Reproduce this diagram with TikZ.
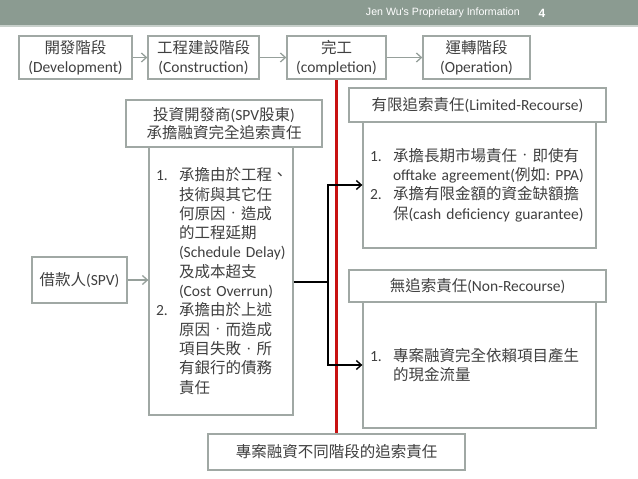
\documentclass[tikz,border=0pt]{standalone}
\usepackage{fontspec}
\setmainfont{Carlito}
\newfontfamily\cjkfont{Noto Sans CJK TC}
\newfontfamily\hdrfont{Liberation Sans}
\usetikzlibrary{arrows.meta}
\newcommand\zh[1]{{\cjkfont #1}}
\newcommand\zdot{\makebox[15.5pt]{\cjkfont\fontsize{9}{9}\selectfont\raisebox{2.4pt}{·}}}
\definecolor{barcol}{RGB}{139,155,145}
\definecolor{barlite}{RGB}{200,208,203}
\definecolor{boxline}{RGB}{160,168,164}
\definecolor{txtcol}{RGB}{64,64,64}
\definecolor{arrowgray}{RGB}{150,160,155}
\definecolor{redcol}{RGB}{200,18,18}
\begin{document}
\begin{tikzpicture}[x=1pt,y=-1pt,
  box/.style={draw=boxline, line width=1.3pt, fill=white, text=txtcol, inner sep=0pt, align=center, font=\fontsize{15.5}{19.5}\selectfont},
  listbox/.style={box, align=left, inner xsep=7pt, inner ysep=0pt, font=\fontsize{15.5}{19.3}\selectfont},
  garrow/.style={draw=arrowgray, line width=1.3pt, -{Straight Barb[length=5pt,width=9pt]}},
  kline/.style={draw=black, line width=1.4pt},
  karrow/.style={kline, -{Straight Barb[length=5pt,width=9pt]}},
  redl/.style={draw=redcol, line width=2.2pt},
  hdr/.style={text=white, inner sep=0pt, font=\hdrfont\fontsize{10.6}{12}\selectfont}
]
\useasboundingbox (0,0) rectangle (638,479);
\fill[white] (0,0) rectangle (638,479);
% header bar
\fill[barcol] (0,0) rectangle (638,25);
\fill[barlite] (0,25) rectangle (638,27);
\node[hdr, anchor=east] (hdrtxt) at (520,13) {Jen Wu's Proprietary Information};
\node[hdr, font=\hdrfont\bfseries\fontsize{12}{14}\selectfont] (pagenum) at (542,13) {4};

% red line (drawn first, boxes cover its ends)
\coordinate (redtop) at (336.5,79);
\coordinate (redbot) at (336.5,434);
\draw[redl] (redtop) -- (redbot);

% top row
\node[box, minimum width=113pt, minimum height=43pt] (dev) at (75.5,57.5) {\zh{開發階段}\\(Development)};
\node[box, minimum width=111pt, minimum height=43pt] (cons) at (203.5,57.5) {\zh{工程建設階段}\\(Construction)};
\node[box, minimum width=99pt, minimum height=43pt] (comp) at (336.5,57.5) {\zh{完工}\\(completion)};
\node[box, minimum width=107pt, minimum height=43pt] (oper) at (476.5,57.5) {\zh{運轉階段}\\(Operation)};
\draw[garrow] (dev) -- (cons);
\draw[garrow] (cons) -- (comp);
\draw[garrow] (comp) -- (oper);

% investor column
\node[listbox, minimum width=144pt, minimum height=268pt, text width=130pt] (body) at (221,281) {%
\makebox[23pt][l]{1.}\zh{承擔由於工程、}\\
\hspace*{23pt}\zh{技術與其它任}\\
\hspace*{23pt}\zh{何原因}\zdot\zh{造成}\\
\hspace*{23pt}\zh{的工程延期}\\
\hspace*{23pt}(Schedule~Delay)\\
\hspace*{23pt}\zh{及成本超支}\\
\hspace*{23pt}(Cost~Overrun)\\
\makebox[23pt][l]{2.}\zh{承擔由於上述}\\
\hspace*{23pt}\zh{原因}\zdot\zh{而造成}\\
\hspace*{23pt}\zh{項目失敗}\zdot\zh{所}\\
\hspace*{23pt}\zh{有銀行的債務}\\
\hspace*{23pt}\zh{責任}};
\node[box, minimum width=196pt, minimum height=47pt, font=\fontsize{15.5}{18}\selectfont] (inv) at (224,123.5) {\zh{投資開發商}(SPV\zh{股東})\\\zh{承擔融資完全追索責任}};

% borrower
\node[box, minimum width=95pt, minimum height=46pt] (spv) at (79.5,280) {\zh{借款人}(SPV)};
\draw[garrow] (spv.east) -- (spv.east -| body.west);

% limited recourse
\node[listbox, minimum width=233pt, minimum height=126pt, text width=219pt] (limb) at (479.5,185) {%
\makebox[23pt][l]{1.}\zh{承擔長期市場責任}\zdot\zh{即使有}\\
\hspace*{23pt}offtake~agreement(\zh{例如}:~PPA)\\
\makebox[23pt][l]{2.}\zh{承擔有限金額的資金缺額擔}\\
\hspace*{23pt}\zh{保}(cash~deficiency~guarantee)};
\node[box, minimum width=257pt, minimum height=34pt] (limh) at (477.5,105) {\zh{有限追索責任}(Limited-Recourse)};

% non recourse
\node[listbox, minimum width=233pt, minimum height=126pt, text width=219pt] (nonb) at (479.5,365) {%
\makebox[23pt][l]{1.}\zh{專案融資完全依賴項目產生}\\
\hspace*{23pt}\zh{的現金流量}};
\node[box, minimum width=257pt, minimum height=32pt] (nonh) at (477.5,286) {\zh{無追索責任}(Non-Recourse)};

% bottom caption box
\node[box, minimum width=257pt, minimum height=36pt] (bot) at (336.5,452) {\zh{專案融資不同階段的追索責任}};

% black connectors
\coordinate (split) at (328,282);
\draw[kline] (body.east |- split) -- (split);
\draw[karrow] (split) |- (limb.west);
\draw[karrow] (split) |- (nonb.west);
\end{tikzpicture}
\end{document}
